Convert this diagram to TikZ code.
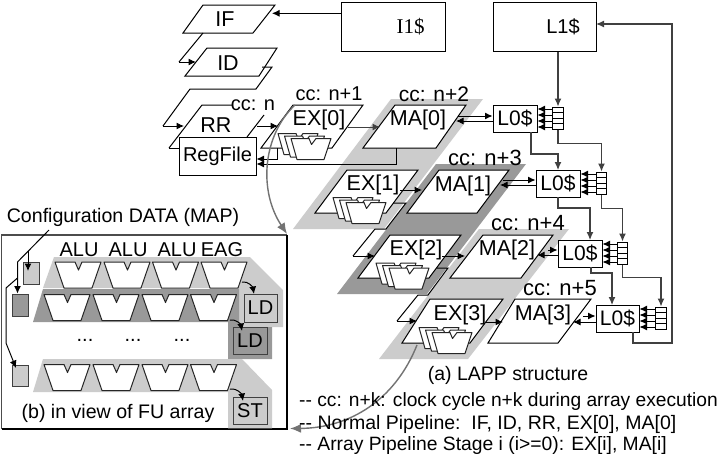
\documentclass[tikz,border=0pt]{standalone}
\usepackage{fontspec}
\setmainfont{Liberation Sans}
\newfontfamily\serifi{Liberation Serif}
\usetikzlibrary{arrows.meta}
\definecolor{lite}{HTML}{CCCCCC}
\definecolor{dark}{HTML}{999999}
\definecolor{wire}{HTML}{404040}
\newcommand{\fsz}[1]{\fontsize{#1}{#1}\selectfont}
\tikzset{
  x=1pt,y=-1pt,
  arr/.style={-{Latex[length=7.5pt,width=7pt]},line width=1pt,draw=black},
  wirearr/.style={-{Latex[length=8pt,width=7pt]},line width=1.2pt,draw=wire},
  bigarr/.style={-{Latex[length=11pt,width=9pt]},line width=1.4pt,draw=black!55},
  plate/.style={draw=black,line width=1pt,fill=white},
  plateline/.style={draw=black,line width=1pt},
  lab/.style={inner sep=0pt,font=\fsz{21.5}},
  cc/.style={inner sep=0pt,font=\fsz{20}},
  txt/.style={inner sep=0pt,font=\fsz{19.5}},
  lbox/.style={draw=black,line width=1pt,fill=white,inner sep=0pt,font=\fsz{21}},
  fubox/.style={draw=black!75,line width=1pt,inner sep=0pt,font=\fsz{20}},
  cfgbox/.style={draw=black!75,line width=1pt,inner sep=0pt},
  fuunit/.style={draw=black!85,line width=1pt,fill=white,line join=round},
}
% parallelogram: top-left x, top-right x, top y, bottom-left x, bottom-right x, bottom y
\newcommand{\para}[6]{\draw[plate] (#1,#3)--(#2,#3)--(#5,#6)--(#4,#6)--cycle;}
% FU trapezoid with notch
\newcommand{\fu}[2]{\draw[fuunit] (#1,#2)--++(20,0)--++(3.5,8)--++(3.5,-8)--++(19,0)--++(-9,26)--++(-28,0)--cycle;}
% small stack in the pipeline stages
\newcommand{\stackfu}[2]{\begin{scope}[shift={(#1,#2)}]
  \foreach \dx/\dy in {-13/-5,-6.5/-2.5,0/0}{
  \draw[fuunit] (\dx,\dy)--++(18,0)--++(2.5,6)--++(4.5,-6)--++(15,0)--++(-7,21)--++(-27,0)--cycle;}
\end{scope}}
% FIFO of four cells with arrows to its L0$
\newcommand{\fifo}[5]{%
  \node[draw=black,line width=1pt,fill=white,minimum width=10.5pt,minimum height=22pt,inner sep=0pt] (#1) at (#3,#4) {};
  \foreach \k in {-5.5,0,5.5}{\draw[line width=1pt] ([yshift=\k pt]#1.west)--([yshift=\k pt]#1.east);}
  \foreach \k in {-9,-3,3,9}{\draw[arr] ([yshift=\k pt]#1.west)--([yshift=\k pt]#1.west-|#2.east);}
}
\begin{document}
\begin{tikzpicture}
\useasboundingbox (0,0) rectangle (720,455);
\fill[white] (0,0) rectangle (720,455);
% ---- stage bands
\fill[lite] (391,99)--(483,99)--(384,229)--(293,229)--cycle;
\fill[dark] (436,164)--(526,164)--(427,294)--(337,294)--cycle;
\fill[lite] (479,229)--(569,229)--(468,359)--(379,359)--cycle;
% ---- caches
\node[lbox,minimum width=104pt,minimum height=48.5pt,font=\fsz{21}\serifi] (i1) at (393,26.8) {\hspace*{35pt}I1\$};
\node[lbox,minimum width=103pt,minimum height=48.5pt,font=\fsz{20}] (l1) at (544.5,26.8) {\hspace*{37pt}L1\$};
% ---- front-end plates
\para{203}{275}{5}{183}{253}{33}
\node[lab] (if) at (225,19) {IF};
\coordinate (ifin) at (272,13.3);
\draw[plateline] (203,33)--(179,62);
\coordinate (idreg) at (179,62);
\coordinate (idin) at (196,62);
\para{207}{277}{48}{185}{259}{76}
\node[lab] (id) at (228,63) {ID};
\draw[plateline] (262,67)--(272,67)--(256,89)--(190,89)--(163,126);
\coordinate (rrreg) at (163,126);
\coordinate (rrin) at (184,126);
\draw[plateline] (169,148)--(202,105)--(232,105);
\draw[plateline] (264,115)--(247,137);
\draw[plateline] (169,148)--(180,148);
\node[lab] (rr) at (216,125) {RR};
\coordinate (rrout) at (257,126);
\coordinate (ex0in) at (278,126);
\node[draw=black,line width=1pt,fill=white,minimum width=77pt,minimum height=38pt,inner sep=0pt,font=\fsz{20}] (rf) at (217.5,156) {RegFile};
\node[cc] (ccn) at (253,105) {cc: n};
% ---- EX and MA plates
\para{293}{363}{105}{261}{332}{148}
\node[lab] (ex0) at (319,120) {EX[0]};
\para{395}{466}{105}{363}{436}{148}
\node[lab] (ma0) at (418,120) {MA[0]};
\para{347}{418}{170}{315}{386}{213}
\node[lab] (ex1) at (373,185) {EX[1]};
\para{439}{509}{170}{407}{477}{213}
\node[lab] (ma1) at (463,186) {MA[1]};
\draw[plateline] (393,203)--(406,203)--(386,229)--(375,229)--(353,256);
\coordinate (ex2reg) at (353,256);
\coordinate (ex2in) at (375,256);
\para{390}{461}{235}{358}{429}{278}
\node[lab] (ex2) at (416,250) {EX[2]};
\para{483}{553}{235}{450}{521}{278}
\node[lab] (ma2) at (507,250) {MA[2]};
\draw[plateline] (437,268)--(448,268)--(428,295)--(418,295)--(397,321);
\coordinate (ex3reg) at (397,321);
\coordinate (ex3in) at (417,321);
\para{430}{503}{299}{402}{470}{343}
\node[lab] (ex3) at (460,315) {EX[3]};
\para{515}{591}{299}{488}{558}{343}
\node[lab] (ma3) at (543,315) {MA[3]};
\stackfu{291}{138.5}
\stackfu{346}{202.5}
\stackfu{389}{268}
\stackfu{432}{332.5}
% ---- cc labels
\node[cc] (cc1) at (329,94) {cc: n+1};
\node[cc,font=\fsz{21}] (cc2) at (434,94) {cc: n+2};
\node[cc,font=\fsz{22}] (cc3) at (485,158) {cc: n+3};
\node[cc,font=\fsz{22}] (cc4) at (528,223) {cc: n+4};
\node[cc,font=\fsz{22}] (cc5) at (560,288) {cc: n+5};
% ---- L0 caches and FIFOs
\node[lbox,minimum width=44pt,minimum height=27pt] (la) at (515,118.5) {L0\$};
\node[lbox,minimum width=44pt,minimum height=27pt] (lb) at (558,183.5) {L0\$};
\node[lbox,minimum width=44pt,minimum height=27pt] (lc) at (580,253.5) {L0\$};
\node[lbox,minimum width=43pt,minimum height=27pt] (ld) at (617.5,318.5) {L0\$};
\fifo{fa}{la}{558}{118}{}
\fifo{fb}{lb}{601.5}{183}{}
\fifo{fc}{lc}{622.5}{253}{}
\fifo{fd}{ld}{661}{318}{}
% ---- connectors
\draw[arr] (i1.west|-ifin)--(ifin);
\draw[arr] (idreg)--(idin);
\draw[arr] (rrreg)--(rrin);
\draw[arr] (rrout)--(ex0in);
\draw[arr] (ex2reg)--(ex2in);
\draw[arr] (ex3reg)--(ex3in);
\coordinate (m0a) at (348,127); \coordinate (m0b) at (380,127);
\draw[arr,draw=black!75] (m0a)--(m0b);
\coordinate (m1a) at (400,190); \coordinate (m1b) at (422,190);
\draw[arr] (m1a)--(m1b);
\coordinate (m2a) at (442,256); \coordinate (m2b) at (465,256);
\draw[arr] (m2a)--(m2b);
\coordinate (m3a) at (485,322); \coordinate (m3b) at (503,322);
\draw[arr] (m3a)--(m3b);
% MA <-> L0
\coordinate (q0o) at (458,116); \coordinate (q0i) at (456,121);
\draw[arr] (q0o)--(q0o-|la.west);
\draw[arr] (q0i-|la.west)--(q0i);
\coordinate (q1o) at (503,180); \coordinate (q1i) at (500,185);
\draw[arr] (q1o)--(q1o-|lb.west);
\draw[arr] (q1i-|lb.west)--(q1i);
\coordinate (q2o) at (548,250); \coordinate (q2i) at (537,255);
\draw[arr] (q2o)--(q2o-|lc.west);
\draw[arr] (q2i-|lc.west)--(q2i);
\coordinate (q3o) at (583,316); \coordinate (q3i) at (573,322);
\draw[arr] (q3o)--(q3o-|ld.west);
\draw[arr] (q3i-|ld.west)--(q3i);
% register file write back
\coordinate (e0b) at (277,148); \coordinate (m0d) at (396,148);
\draw[arr] (e0b)--(277,159)--(277,159-|rf.east);
\draw[arr] (m0d)--(396,164)--(396,164-|rf.east);
% L1 and cache chain
\draw[wirearr] (fa.north|-l1.south)--(fa.north);
\draw[wirearr] (fa.south)--++(0,14)-|(fb.north);
\draw[wirearr] (fb.south)--++(0,14)-|(fc.north);
\draw[wirearr] (fc.south)--++(0,13)-|(fd.north);
\coordinate (lax) at (531,132);\coordinate (lbx) at (558,197);\coordinate (lcx) at (591,267);
\coordinate (lbin) at (558,170);\coordinate (lcin) at (590,240);\coordinate (ldin) at (612,305);
\draw[wirearr] (lax)--(531,154)-|(lbin);
\draw[wirearr] (lbx)--(558,208)-|(lcin);
\draw[wirearr] (lcx)--(591,273)-|(ldin);
\coordinate (ldx) at (633,332);\coordinate (l1r) at (596,24);
\draw[wirearr] (ldx)--(633,343)--(672,343)--(672,24)--(l1r);
% ---- FU array box
\draw[draw=black!70,line width=1.2pt] (1.5,429)--(1.5,235)--(287,235);
\draw[draw=black,line width=1.2pt] (287,235)--(287,429)--(1.5,429);
\fill[lite] (54,257)--(250,257)--(283,290)--(283,327)--(238,327)--(238,288)--(43,288)--cycle;
\fill[dark] (33,322)--(43,289)--(239,289)--(239,327)--(272,327)--(272,359)--(228,359)--(228,322)--cycle;
\fill[lite] (33,392)--(43,359)--(242,359)--(272,390)--(272,428.3)--(228,428.3)--(228,392)--cycle;
\foreach \xx in {55,104,152.5,201}{\fu{\xx}{262}}
\foreach \xx in {44,93,142,190.5}{\fu{\xx}{294.5}\fu{\xx}{364.5}}
\node[cc] (alu1) at (79,250) {ALU};
\node[cc] (alu2) at (128,250) {ALU};
\node[cc] (alu3) at (177,250) {ALU};
\node[cc] (eag) at (222,250) {EAG};
\node[fubox,fill=lite,minimum width=33pt,minimum height=28pt] (ld1) at (260.5,308) {LD};
\node[fubox,fill=dark,minimum width=34pt,minimum height=27pt] (ld2) at (250,340.5) {LD};
\node[fubox,fill=lite,minimum width=34pt,minimum height=27pt] (st) at (250,410.5) {ST};
\node[cc,anchor=base] (dots1) at (85,341) {...};
\node[cc,anchor=base] (dots2) at (133,341) {...};
\node[cc,anchor=base] (dots3) at (182,341) {...};
\node[cfgbox,fill=lite,minimum width=16pt,minimum height=22pt] (c1) at (31,273) {};
\node[cfgbox,fill=dark,minimum width=16pt,minimum height=22pt] (c2) at (20,305) {};
\node[cfgbox,fill=lite,minimum width=16pt,minimum height=21pt] (c3) at (20,375.5) {};
\node[txt,font=\fsz{19.6}] (cfg) at (123,217) {Configuration DATA (MAP)};
\node[txt,font=\fsz{19.6}] (bcap) at (118,413) {(b) in view of FU array};
\coordinate (cfgs) at (49,230);
\coordinate (cfgk) at (17.5,262);
\coordinate (c1t) at (28,251);
\draw[arr] (cfgs)--(cfgk)--(c2.north-|cfgk);
\draw[arr] (c1t)--(28,271);
\draw[arr] (17.5,278)--(6,288)--(6,343)--(16,368);
\coordinate (r1a) at (242,282);\coordinate (r2a) at (230,320);\coordinate (r4a) at (230,389);
\coordinate (r1b) at (254,294);\coordinate (r2b) at (242,331);\coordinate (r4b) at (243,401);
\draw[arr] (r1a) to[out=10,in=100] (r1b);
\draw[arr] (r2a) to[out=10,in=100] (r2b);
\draw[arr] (r4a) to[out=10,in=100] (r4b);
% ---- big curves
\coordinate (ca) at (295,105);\coordinate (caend) at (287,234);
\coordinate (cb) at (417,345);\coordinate (cbend) at (290,428.5);
\draw[bigarr] (ca) .. controls (263,135) and (258,190) .. (caend);
\draw[bigarr] (cb) .. controls (395,400) and (350,428) .. (cbend);
% ---- captions
\node[txt] (acap) at (508,375) {(a) LAPP structure};
\node[txt,anchor=west,font=\fsz{19.2}] (t1) at (299,402) {-{}- cc: n+k: clock cycle n+k during array execution};
\node[txt,anchor=west,font=\fsz{19.5}] (t2) at (299,424) {-{}- Normal Pipeline:\ \ IF, ID, RR, EX[0], MA[0]};
\node[txt,anchor=west,font=\fsz{19.3}] (t3) at (299,446) {-{}- Array Pipeline Stage i (i>=0): EX[i], MA[i]};
\end{tikzpicture}
\end{document}
